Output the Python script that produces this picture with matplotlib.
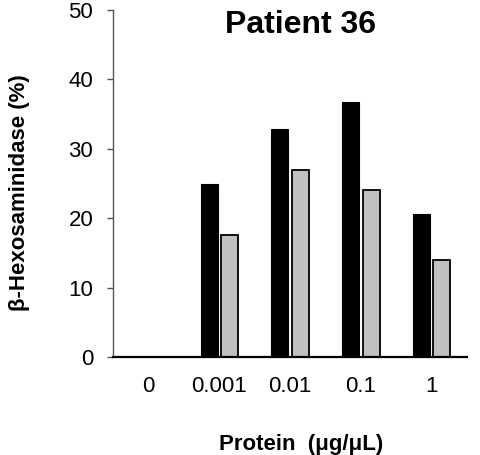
import matplotlib as mpl

mpl.use("Agg")
import matplotlib.pyplot as plt
import numpy as np

# data
CONC = ["0", "0.001", "0.01", "0.1", "1"]
BLACK_VALS = [0.0, 24.9, 32.85, 36.7, 20.6]
GREY_VALS = [0.0, 17.6, 27.0, 24.0, 14.0]
Y_TICKS = [0, 10, 20, 30, 40, 50]

FONT = ["Liberation Sans", "DejaVu Sans"]
GREY = "#C0C0C0"

mpl.rcParams.update(
    {
        "font.family": FONT,
        "font.size": 16,
    }
)

fig = plt.figure(figsize=(4.81, 4.55), dpi=100)
ax = fig.add_axes([113.4 / 481, 1 - 357 / 455, (467 - 113.4) / 481, (357 - 10) / 455])

x = np.arange(len(CONC))
w = 0.24
off = 0.145
ax.bar(x - off, BLACK_VALS, width=w, color="black", edgecolor="black", lw=0.8, zorder=2)
ax.bar(x + off, GREY_VALS, width=w, color=GREY, edgecolor="black", lw=1.3, zorder=2)

ax.set_xlim(-0.5, 4.5)
ax.set_ylim(0, 50)
ax.set_yticks(Y_TICKS)
ax.set_xticks(x)
ax.set_xticklabels(CONC)

for s in ["top", "right"]:
    ax.spines[s].set_visible(False)
ax.spines["left"].set_color("#555555")
ax.spines["left"].set_linewidth(1.0)
ax.spines["bottom"].set_color("black")
ax.spines["bottom"].set_linewidth(1.6)
ax.spines["bottom"].set_zorder(3)

ax.tick_params(axis="y", direction="out", length=4.5, width=1.0, color="#555555", pad=10, labelsize=16)
ax.tick_params(axis="x", length=0, pad=14, labelsize=16)

ax.set_ylabel("β-Hexosaminidase (%)", fontsize=16, fontweight="bold")
ax.yaxis.set_label_coords(-0.237, 0.473)
ax.set_xlabel("Protein  (μg/μL)", fontsize=16, fontweight="bold")
ax.xaxis.set_label_coords(0.531, -0.222)

fig.text(301 / 481, 1 - 25 / 455, "Patient 36", ha="center", va="center",
         fontsize=23, fontweight="bold")

fig.savefig("out.png", dpi=100)
